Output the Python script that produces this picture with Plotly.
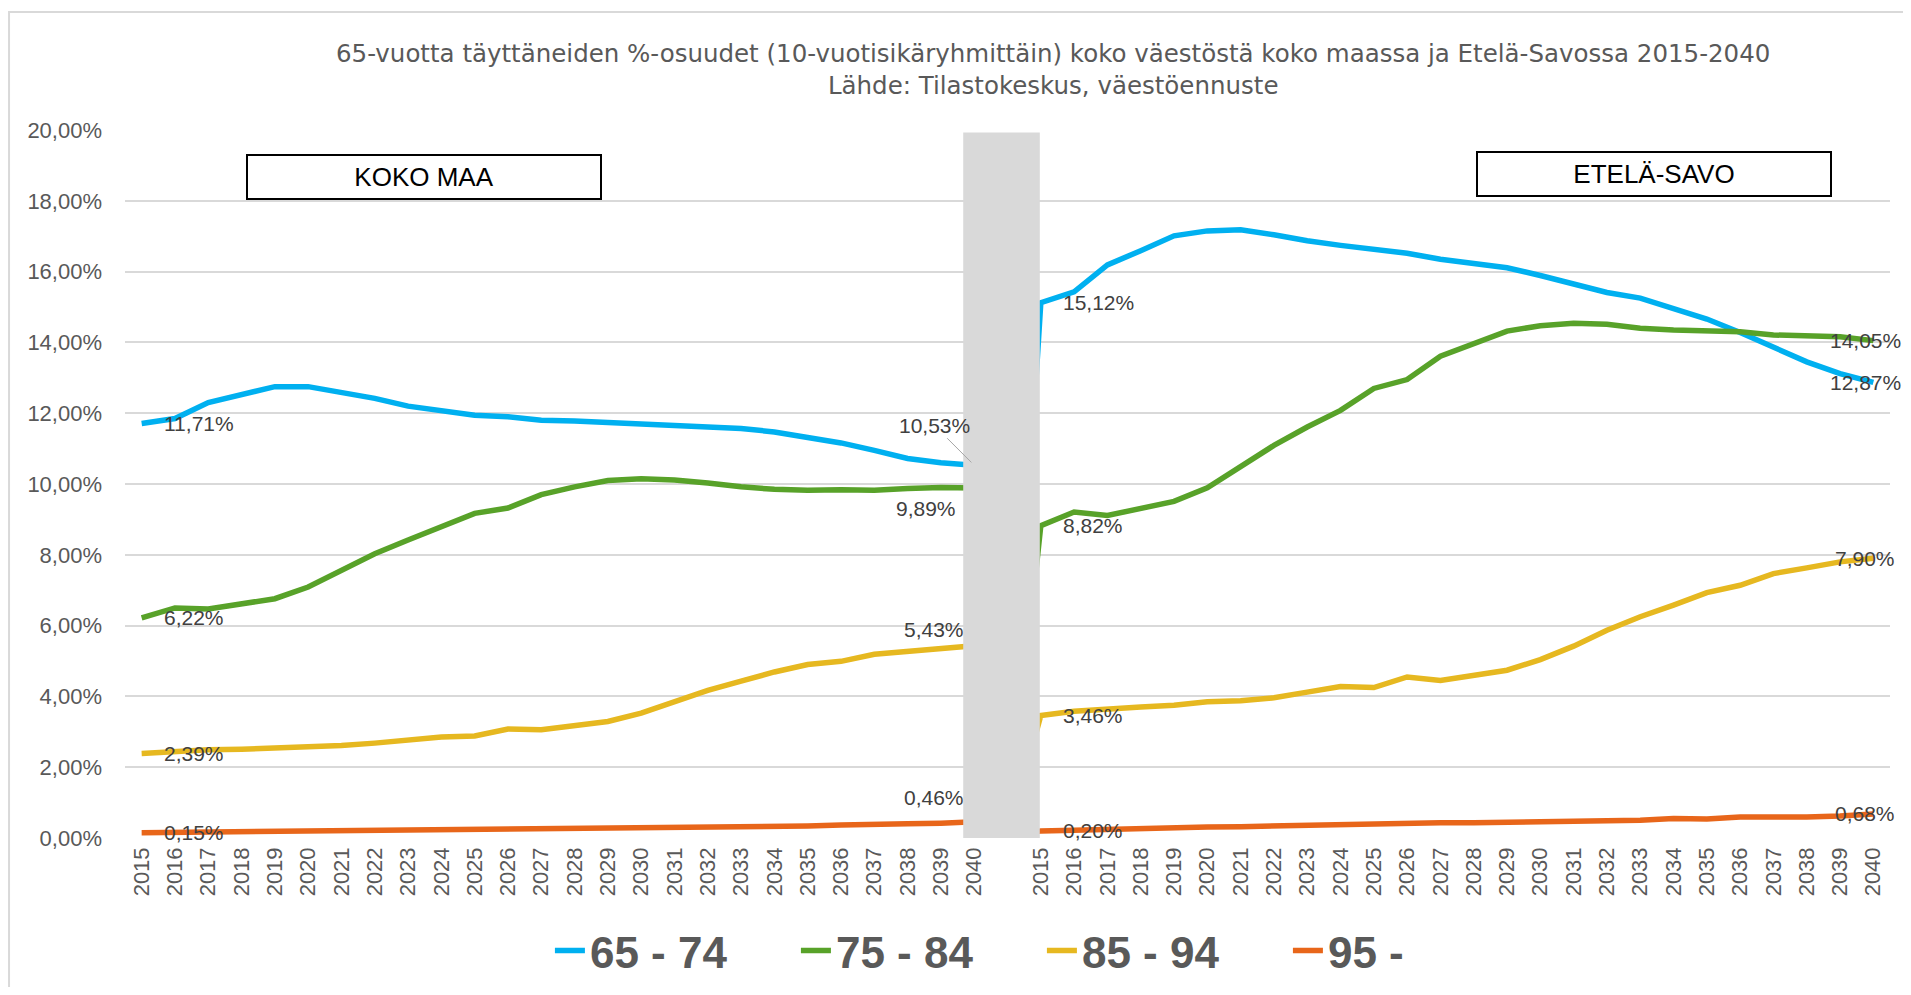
import plotly.graph_objects as go

years = [str(y) for y in range(2015, 2041)]
gap_label = ""

# KOKO MAA (whole country), % of total population
km_65_74 = [11.71, 11.85, 12.30, 12.54, 12.75, 12.75, 12.60, 12.42, 12.20, 12.06, 11.94, 11.90, 11.80,
            11.78, 11.74, 11.69, 11.63, 11.59, 11.57, 11.47, 11.33, 11.16, 10.95, 10.72, 10.60, 10.53]
km_75_84 = [6.22, 6.50, 6.47, 6.62, 6.76, 7.09, 7.56, 8.03, 8.42, 8.78, 9.17, 9.32, 9.70,
            9.92, 10.10, 10.15, 10.11, 10.03, 9.92, 9.85, 9.82, 9.84, 9.82, 9.87, 9.90, 9.89]
km_85_94 = [2.39, 2.45, 2.49, 2.51, 2.54, 2.57, 2.61, 2.68, 2.77, 2.85, 2.88, 3.08, 3.06,
            3.17, 3.29, 3.53, 3.86, 4.17, 4.43, 4.69, 4.90, 4.99, 5.19, 5.28, 5.36, 5.43]
km_95 = [0.15, 0.16, 0.17, 0.18, 0.19, 0.20, 0.20, 0.21, 0.22, 0.22, 0.23, 0.24, 0.25,
         0.25, 0.26, 0.27, 0.28, 0.29, 0.30, 0.33, 0.34, 0.37, 0.37, 0.40, 0.42, 0.46]

# ETELÄ-SAVO
es_65_74 = [15.12, 15.43, 16.19, 16.59, 17.01, 17.15, 17.18, 17.04, 16.87, 16.74, 16.63, 16.52, 16.35,
            16.24, 16.11, 15.89, 15.64, 15.41, 15.25, 14.96, 14.66, 14.28, 13.88, 13.45, 13.12, 12.87]
es_75_84 = [8.82, 9.21, 9.11, 9.31, 9.51, 9.89, 10.48, 11.09, 11.61, 12.08, 12.70, 12.95, 13.61,
            13.97, 14.32, 14.47, 14.54, 14.51, 14.40, 14.35, 14.32, 14.30, 14.21, 14.19, 14.16, 14.05]
es_85_94 = [3.46, 3.58, 3.65, 3.70, 3.75, 3.85, 3.88, 3.96, 4.12, 4.28, 4.25, 4.55, 4.45,
            4.59, 4.74, 5.04, 5.42, 5.87, 6.25, 6.58, 6.93, 7.14, 7.47, 7.63, 7.80, 7.90]
es_95 = [0.20, 0.22, 0.25, 0.27, 0.29, 0.31, 0.32, 0.34, 0.36, 0.38, 0.41, 0.42, 0.43,
         0.43, 0.44, 0.45, 0.45, 0.47, 0.50, 0.55, 0.54, 0.59, 0.58, 0.59, 0.62, 0.68]

gap_value = 0.0  # empty cell between the two blocks, plotted as zero

series_names = ["65 - 74", "75 - 84", "85 - 94", "95 -"]
colors = ["#00B0F0", "#58A229", "#E6B820", "#E8661A"]
km_series = [km_65_74, km_75_84, km_85_94, km_95]
es_series = [es_65_74, es_75_84, es_85_94, es_95]

tick_labels = years + [gap_label] + years
x_idx = list(range(len(tick_labels)))
n_km = len(years)
es_start = n_km + 1

SANS = "Liberation Sans, Arial, sans-serif"
GREY = "#595959"
LABEL = "#404040"


def fmt(v):
    return f"{v:.2f}".replace(".", ",") + "%"


fig = go.Figure()
for name, col, km, es in zip(series_names, colors, km_series, es_series):
    fig.add_trace(go.Scatter(
        x=x_idx, y=km + [gap_value] + es, mode="lines", name=name,
        line=dict(color=col, width=5.5), hoverinfo="skip"))

lab_font = dict(family=SANS, size=21, color=LABEL)
ann = []
for km, es in zip(km_series, es_series):
    # first points of each block: label to the right
    for xi, v in ((0, km[0]), (es_start, es[0])):
        ann.append(dict(x=xi, y=v, xref="x", yref="y", text=fmt(v), showarrow=False,
                        xanchor="left", yanchor="middle", xshift=20, font=lab_font))
    # last point of Etelä-Savo
    ann.append(dict(x=x_idx[-1], y=es[-1], xref="x", yref="y", text=fmt(es[-1]), showarrow=False,
                    xanchor="center", yanchor="middle", xshift=-8, font=lab_font))

# last points of KOKO MAA, manually placed labels
last_km = n_km - 1
ann.append(dict(x=last_km, y=km_65_74[-1], xref="x", yref="y", text=fmt(km_65_74[-1]),
                showarrow=True, arrowhead=0, arrowwidth=1, arrowcolor="#A6A6A6",
                ax=-40, ay=-40, standoff=4, font=lab_font))
for v, dx, dy in ((km_75_84[-1], -48, -21), (km_85_94[-1], -40, 16), (km_95[-1], -40, 24)):
    ann.append(dict(x=last_km, y=v, xref="x", yref="y", text=fmt(v), showarrow=False,
                    xanchor="center", yanchor="middle", xshift=dx, yshift=dy, font=lab_font))

# title
ann.append(dict(x=0.526, y=1.086, xref="paper", yref="paper", showarrow=False,
                text="65-vuotta täyttäneiden %-osuudet (10-vuotisikäryhmittäin) koko väestöstä koko maassa ja Etelä-Savossa 2015-2040<br>Lähde: Tilastokeskus, väestöennuste",
                xanchor="center", yanchor="middle",
                font=dict(family="DejaVu Sans, Verdana, sans-serif", size=24.5, color=GREY)))

# region boxes
for text, px, py in (("KOKO MAA", 0.1694, 0.933), ("ETELÄ-SAVO", 0.8663, 0.938)):
    ann.append(dict(x=px, y=py, xref="paper", yref="paper", text=text, showarrow=False,
                    xanchor="center", yanchor="middle", width=352, height=42,
                    bordercolor="black", borderwidth=2, borderpad=0, bgcolor="white",
                    font=dict(family=SANS, size=26, color="black")))

shapes = [
    # grey divider between the two blocks
    dict(type="rect", xref="x", yref="y", x0=24.67, x1=26.97, y0=0, y1=19.93,
         fillcolor="#D9D9D9", line=dict(width=0), layer="above"),
    # outer chart border
    dict(type="rect", xref="paper", yref="paper", x0=-0.0657, x1=1.05, y0=-0.3, y1=1.1667,
         line=dict(color="#D9D9D9", width=2), fillcolor="rgba(0,0,0,0)", layer="below"),
]

ytv = list(range(0, 21, 2))
fig.update_layout(
    width=1895, height=979,
    margin=dict(l=117, r=13, t=122, b=149, autoexpand=False),
    paper_bgcolor="white", plot_bgcolor="white",
    annotations=ann, shapes=shapes,
    showlegend=True,
    legend=dict(orientation="h", x=0.5195, xanchor="center", xref="paper",
                y=0.037, yanchor="middle", yref="container",
                font=dict(family=SANS, size=44, color=GREY, weight="bold"),
                entrywidth=201, tracegroupgap=0),
    xaxis=dict(range=[-0.5, len(x_idx) - 0.5], tickmode="array", tickvals=x_idx, ticktext=tick_labels,
               tickangle=-90, showgrid=False, zeroline=False, showline=False, automargin=False,
               ticklabelstandoff=4,
               tickfont=dict(family=SANS, size=22, color=GREY)),
    yaxis=dict(range=[0, 20], tickmode="array", tickvals=ytv, ticktext=[fmt(v) for v in ytv],
               showgrid=True, gridcolor="#D9D9D9", gridwidth=1.5, zeroline=False, showline=False,
               ticklabelstandoff=22, automargin=False,
               tickfont=dict(family=SANS, size=22, color=GREY)),
)

fig.write_html("out.html")
